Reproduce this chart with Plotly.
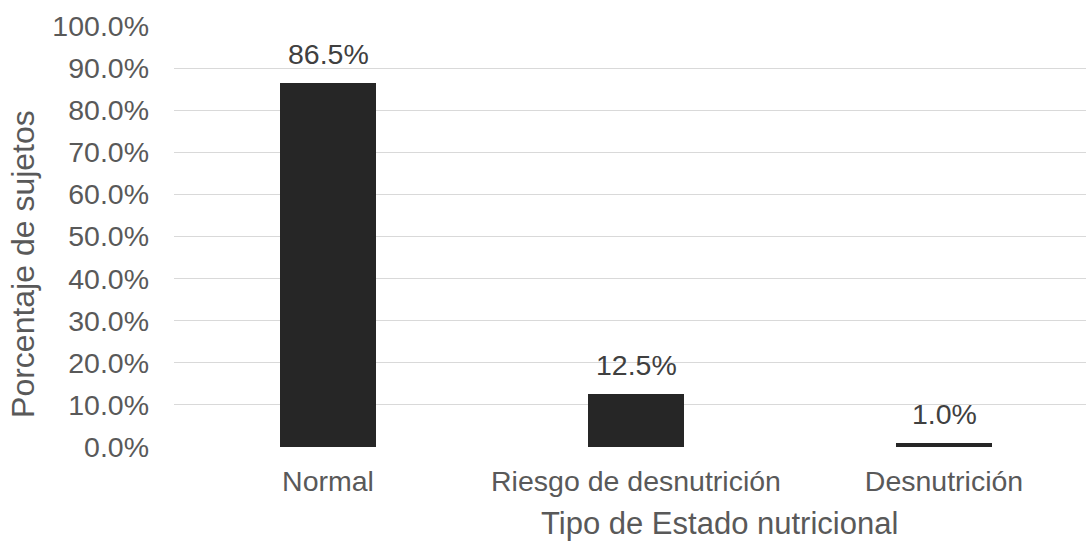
import plotly.graph_objects as go

# Estado nutricional: porcentaje de sujetos por categoría
categorias = ["Normal", "Riesgo de desnutrición", "Desnutrición"]
porcentajes = [86.5, 12.5, 1.0]
ticks_y = [0, 10, 20, 30, 40, 50, 60, 70, 80, 90, 100]
ticks_y_text = [f"{v:.1f}%" for v in ticks_y]

FONT = "Liberation Sans, Arial, sans-serif"

fig = go.Figure()
fig.add_trace(go.Bar(
    x=list(range(len(categorias))),
    y=porcentajes,
    width=0.312,
    marker=dict(color="#262626", line=dict(width=0)),
    hoverinfo="skip",
))

# Etiquetas de valor encima de cada barra
for i, v in enumerate(porcentajes):
    fig.add_annotation(
        x=i, y=v, xref="x", yref="y",
        text=f"{v:.1f}%", showarrow=False,
        yanchor="bottom", yshift=11,
        font=dict(family=FONT, size=28.5, color="#404040"),
    )

# Títulos de los ejes
fig.add_annotation(
    x=-0.1656, y=0.4347, xref="paper", yref="paper",
    text="Porcentaje de sujetos", showarrow=False, textangle=-90,
    xanchor="center", yanchor="middle",
    font=dict(family=FONT, size=32, color="#595959"),
)
fig.add_annotation(
    x=0.5976, y=0, xref="paper", yref="paper",
    text="Tipo de Estado nutricional", showarrow=False,
    xanchor="center", yanchor="middle", yshift=-76,
    font=dict(family=FONT, size=31, color="#595959"),
)

fig.update_layout(
    width=1086, height=548,
    margin=dict(l=174, r=0, t=26, b=101),
    paper_bgcolor="white", plot_bgcolor="white",
    showlegend=False,
    bargap=0,
    xaxis=dict(
        range=[-0.5, 2.461],
        tickmode="array",
        tickvals=list(range(len(categorias))),
        ticktext=categorias,
        showgrid=False, zeroline=False, showline=False,
        ticks="", ticklabelstandoff=14,
        tickfont=dict(family=FONT, size=28.5, color="#595959"),
    ),
    yaxis=dict(
        range=[0, 100],
        tickmode="array",
        tickvals=ticks_y,
        ticktext=ticks_y_text,
        showgrid=True, gridcolor="#d9d9d9", gridwidth=1.3,
        zeroline=False, showline=False,
        ticks="", ticklabelstandoff=24,
        tickfont=dict(family=FONT, size=28.5, color="#595959"),
    ),
)

fig.write_html("out.html")
